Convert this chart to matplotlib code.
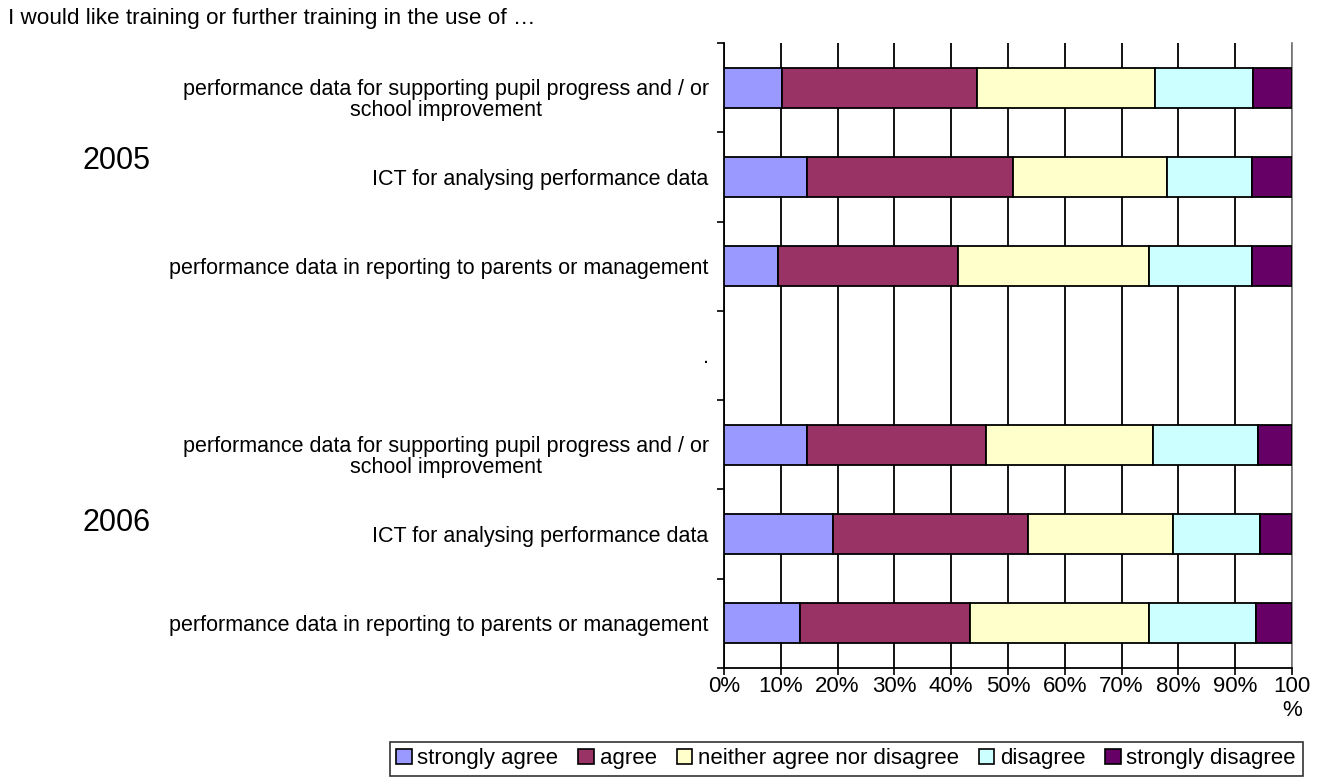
import numpy as np
import matplotlib.pyplot as plt
import matplotlib.transforms as mtransforms
from matplotlib.patches import Patch

plt.rcParams['font.family'] = ['Liberation Sans', 'DejaVu Sans']

# rows from top to bottom; "." is the empty spacer row between the two years
categories = [
    "performance data for supporting pupil progress and / or\nschool improvement",
    "ICT for analysing performance data",
    "performance data in reporting to parents or management",
    ".",
    "performance data for supporting pupil progress and / or\nschool improvement",
    "ICT for analysing performance data",
    "performance data in reporting to parents or management",
]
data_rows = [0, 1, 2, 4, 5, 6]

series = ["strongly agree", "agree", "neither agree nor disagree",
          "disagree", "strongly disagree"]
strongly_agree = [10.2, 14.6, 9.5, 14.6, 19.2, 13.3]
agree = [34.3, 36.3, 31.7, 31.5, 34.4, 30.0]
neither = [31.4, 27.1, 33.6, 29.4, 25.4, 31.6]
disagree = [17.2, 15.0, 18.2, 18.5, 15.3, 18.8]
strongly_disagree = [6.9, 7.0, 7.0, 6.0, 5.7, 6.3]

colors = ["#9999FF", "#993366", "#FFFFCC", "#CCFFFF", "#660066"]

xticks = [0, 10, 20, 30, 40, 50, 60, 70, 80, 90, 100]
xticklabels = ["0%", "10%", "20%", "30%", "40%", "50%", "60%", "70%",
               "80%", "90%", "100\n%"]

fig = plt.figure(figsize=(13.2, 7.8), dpi=100)
ax = fig.add_axes([0.5485, 0.1436, 0.4303, 0.8013])

left = np.zeros(len(data_rows))
for name, vals, col in zip(series,
                           [strongly_agree, agree, neither, disagree, strongly_disagree],
                           colors):
    vals = np.array(vals)
    ax.barh(data_rows, vals, left=left, height=0.45, color=col,
            edgecolor="black", linewidth=1.3, zorder=3)
    left += vals

ax.set_xlim(0, 100)
ax.set_ylim(6.5, -0.5)

ax.set_xticks(xticks)
ax.set_xticklabels(xticklabels, fontsize=16, linespacing=1.15)
ax.tick_params(axis="x", length=5, width=1.2, pad=1)
ax.grid(axis="x", color="black", linewidth=1.3, zorder=0)

# tick marks at category boundaries, labels in the middle
ax.set_yticks(np.arange(-0.5, 7.0, 1.0))
ax.set_yticklabels([])
ax.tick_params(axis="y", which="major", length=5, width=1.2)
ax.set_yticks(range(len(categories)), minor=True)
ax.set_yticklabels(categories, minor=True, fontsize=15.5,
                   multialignment="center", linespacing=1.0)
ax.tick_params(axis="y", which="minor", length=0, pad=11)
# two-line labels sit a little lower than the bar centre
shift = mtransforms.ScaledTranslation(0, -10 / 100, fig.dpi_scale_trans)
for lab in ax.get_yticklabels(minor=True):
    if "\n" in lab.get_text():
        lab.set_transform(lab.get_transform() + shift)

ax.spines["top"].set_visible(False)
ax.spines["right"].set_color("#808080")
ax.spines["right"].set_linewidth(1.3)
ax.spines["left"].set_linewidth(1.3)
ax.spines["bottom"].set_linewidth(1.3)

fig.text(0.006, 0.99, "I would like training or further training in the use of \u2026",
         fontsize=16.2, va="top", ha="left")
fig.text(0.0886, 0.7936, "2005", fontsize=22, ha="center", va="center")
fig.text(0.0886, 0.3295, "2006", fontsize=22, ha="center", va="center")

handles = [Patch(facecolor=c, edgecolor="black", linewidth=1.2) for c in colors]
leg = fig.legend(handles, series, loc="center", bbox_to_anchor=(0.641, 0.027),
                 ncol=5, fontsize=16, frameon=True, fancybox=False,
                 handlelength=0.7, handleheight=0.7, handletextpad=0.25,
                 columnspacing=0.9, borderpad=0.3, borderaxespad=0)
leg.get_frame().set_edgecolor("black")
leg.get_frame().set_linewidth(1.2)

fig.savefig("out.png", dpi=100, facecolor="white")
